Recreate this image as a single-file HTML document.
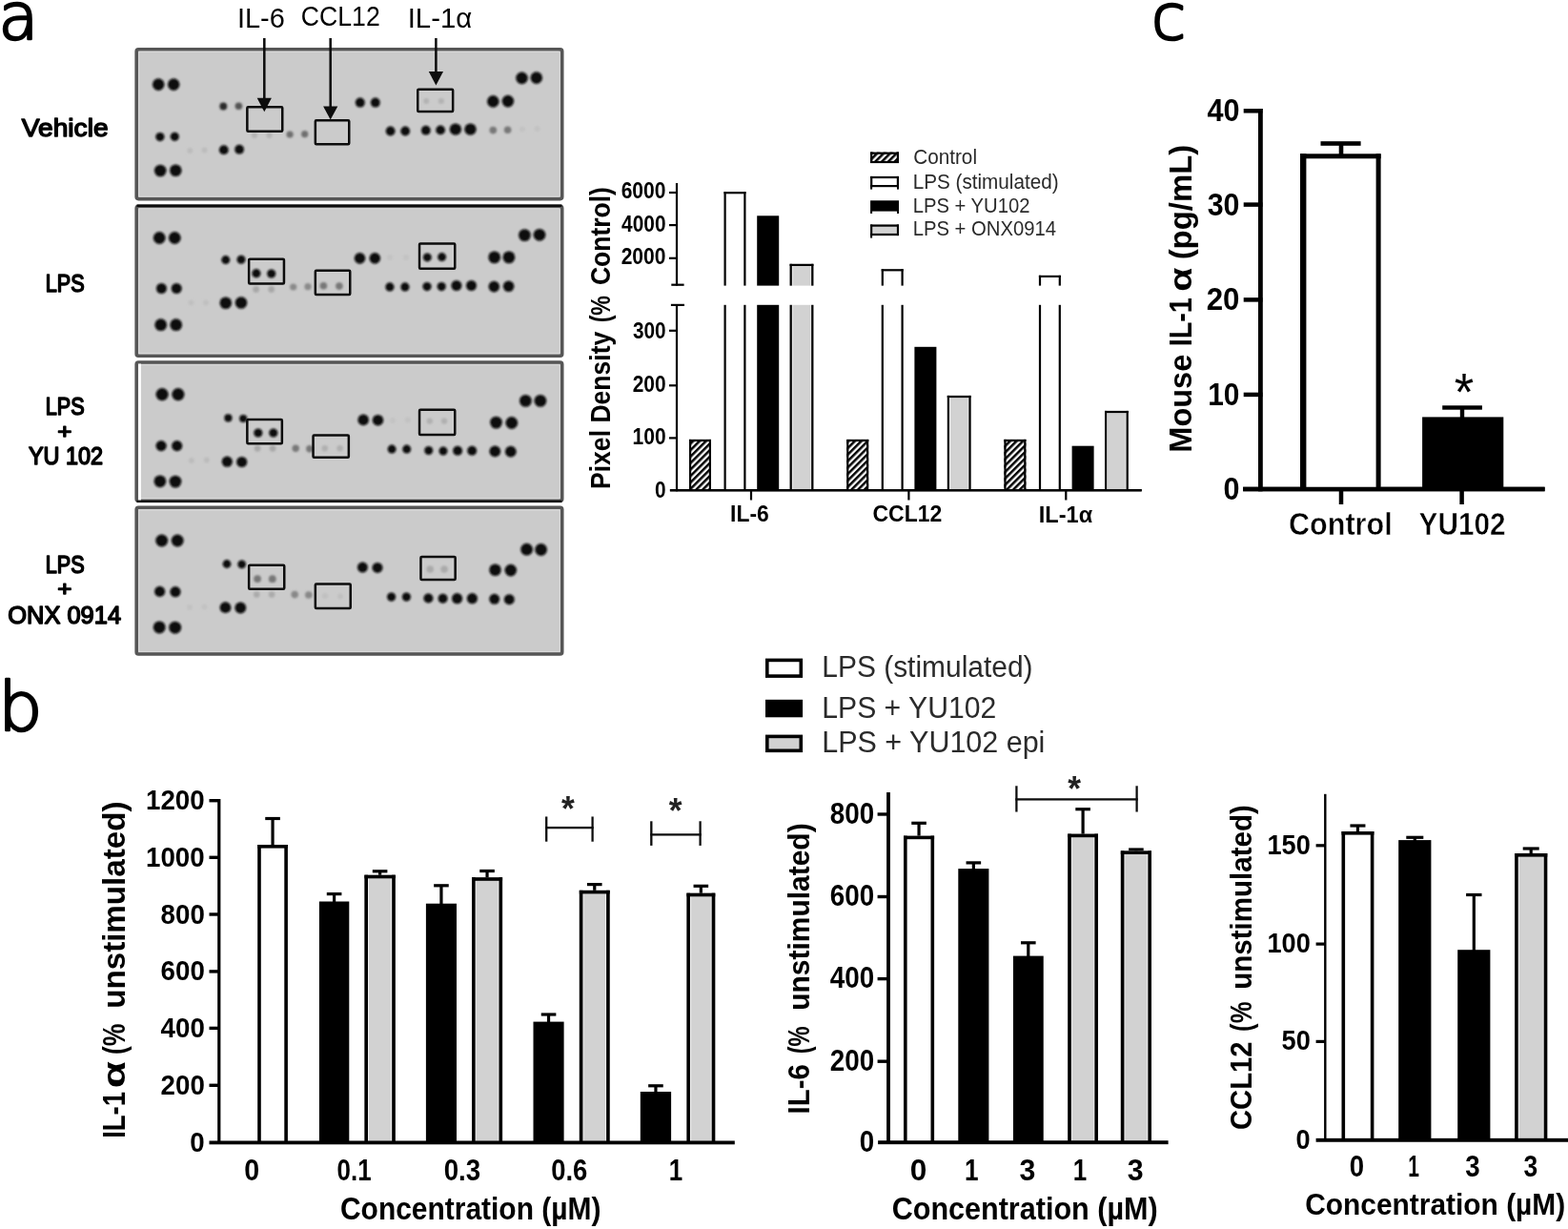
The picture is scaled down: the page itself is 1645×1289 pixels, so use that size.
<!DOCTYPE html>
<html lang="en"><head><meta charset="utf-8"><title>Figure</title>
<style>
html,body{margin:0;padding:0;background:#fff;}
body{width:1645px;height:1289px;overflow:hidden;}
svg{display:block;}
text{white-space:pre;}
</style></head>
<body>
<svg width="1645" height="1289" viewBox="0 0 1645 1289">
<defs>
<pattern id="hatch" patternUnits="userSpaceOnUse" width="4.8" height="4.8" patternTransform="rotate(-45)">
<rect width="4.8" height="4.8" fill="#fff"/><rect y="0" width="4.8" height="2.5" fill="#000"/>
</pattern>
<filter id="soft" x="-20%" y="-20%" width="140%" height="140%"><feGaussianBlur stdDeviation="0.9"/></filter>
<filter id="soft3" filterUnits="userSpaceOnUse" x="0" y="0" width="1645" height="1289"><feGaussianBlur stdDeviation="0.45"/></filter>
<filter id="soft2" x="-5%" y="-5%" width="110%" height="110%"><feGaussianBlur stdDeviation="0.6"/></filter>
</defs>
<rect width="1645" height="1289" fill="#fff"/>
<g id="all" filter="url(#soft3)">
<text transform="matrix(0.6810 0 0 0.6722 -1.55 40.69)" font-family="DejaVu Sans, Liberation Sans, sans-serif" font-weight="200" font-size="100" fill="#000" stroke="#000" stroke-width="3.84" stroke-linejoin="round" >a</text>
<text transform="matrix(0.7341 0 0 0.7174 -2.04 766.42)" font-family="DejaVu Sans, Liberation Sans, sans-serif" font-weight="200" font-size="100" fill="#000" stroke="#000" stroke-width="3.58" stroke-linejoin="round" >b</text>
<text transform="matrix(0.6571 0 0 0.6626 1207.9 40.71)" font-family="DejaVu Sans, Liberation Sans, sans-serif" font-weight="200" font-size="100" fill="#000" stroke="#000" stroke-width="3.94" stroke-linejoin="round" >c</text>
<rect x="143.2" y="51.8" width="446.5" height="156.8" rx="2" fill="#cbcbcb" stroke="#565656" stroke-width="3.6"/>
<rect x="145.6" y="54.3" width="441.7" height="151.8" rx="1" fill="none" stroke="#d8d8d8" stroke-width="1.2"/>
<rect x="143.2" y="216.4" width="446.5" height="156.8" rx="2" fill="#cbcbcb" stroke="#565656" stroke-width="3.6"/>
<rect x="145.6" y="218.9" width="441.7" height="151.8" rx="1" fill="none" stroke="#d8d8d8" stroke-width="1.2"/>
<rect x="143.2" y="380" width="446.5" height="145.2" rx="2" fill="#cbcbcb" stroke="#565656" stroke-width="3.6"/>
<rect x="145.6" y="382.5" width="441.7" height="140.2" rx="1" fill="none" stroke="#d8d8d8" stroke-width="1.2"/>
<rect x="143.2" y="532.3" width="446.5" height="153.7" rx="2" fill="#cbcbcb" stroke="#565656" stroke-width="3.6"/>
<rect x="145.6" y="534.8" width="441.7" height="148.7" rx="1" fill="none" stroke="#d8d8d8" stroke-width="1.2"/>
<rect x="143.5" y="214.5" width="445.9" height="2.4" fill="#0a0a0a"/>
<rect x="143.5" y="524.7" width="445.9" height="2.4" fill="#0a0a0a"/>
<rect x="145" y="381.5" width="3" height="143" fill="#fff" opacity="0.9"/>
<g filter="url(#soft)">
<circle cx="166.2" cy="88.6" r="6.3" fill="#0d0d0d"/>
<circle cx="182.2" cy="88.6" r="6.3" fill="#0d0d0d"/>
<circle cx="167.9" cy="143.6" r="4.6" fill="#0d0d0d"/>
<circle cx="183.3" cy="143.3" r="4.6" fill="#0d0d0d"/>
<circle cx="168.2" cy="179" r="6.3" fill="#0d0d0d"/>
<circle cx="184.3" cy="178.8" r="6.3" fill="#0d0d0d"/>
<circle cx="234.3" cy="111.5" r="3.9" fill="#2a2a2a"/>
<circle cx="250.4" cy="111.2" r="3.8" fill="#555"/>
<circle cx="234.8" cy="157.2" r="4.9" fill="#0d0d0d"/>
<circle cx="251.1" cy="156.7" r="4.9" fill="#0d0d0d"/>
<circle cx="199.3" cy="157.9" r="3" fill="#bcbcbc"/>
<circle cx="214.6" cy="157.5" r="3" fill="#bcbcbc"/>
<circle cx="304.1" cy="141" r="3.6" fill="#6e6e6e"/>
<circle cx="319.7" cy="140.7" r="3.6" fill="#6e6e6e"/>
<circle cx="266.9" cy="142.1" r="3" fill="#b4b4b4"/>
<circle cx="282.5" cy="142.1" r="3" fill="#b4b4b4"/>
<circle cx="447.2" cy="106" r="3" fill="#b2b2b2"/>
<circle cx="462.9" cy="106" r="3" fill="#b2b2b2"/>
<circle cx="377.8" cy="107.6" r="5" fill="#0d0d0d"/>
<circle cx="393.8" cy="107.6" r="5" fill="#0d0d0d"/>
<circle cx="547.5" cy="81.9" r="6.3" fill="#0d0d0d"/>
<circle cx="562.8" cy="81.6" r="6.3" fill="#0d0d0d"/>
<circle cx="517.3" cy="106.4" r="6.3" fill="#0d0d0d"/>
<circle cx="532.9" cy="106.1" r="6.3" fill="#0d0d0d"/>
<circle cx="409.6" cy="137.5" r="4.9" fill="#0d0d0d"/>
<circle cx="425.2" cy="137.5" r="4.9" fill="#0d0d0d"/>
<circle cx="446.8" cy="136.7" r="4.9" fill="#0d0d0d"/>
<circle cx="462.1" cy="136.4" r="4.9" fill="#0d0d0d"/>
<circle cx="477.9" cy="135.6" r="6.2" fill="#0d0d0d"/>
<circle cx="493.5" cy="135.6" r="6.2" fill="#0d0d0d"/>
<circle cx="517.3" cy="136.6" r="3.8" fill="#777"/>
<circle cx="532.6" cy="136.3" r="3.8" fill="#777"/>
<circle cx="548" cy="135.5" r="3" fill="#c2c2c2"/>
<circle cx="563.5" cy="135" r="3" fill="#c2c2c2"/>
<circle cx="167.2" cy="249.5" r="6.4" fill="#0d0d0d"/>
<circle cx="183.3" cy="249.5" r="6.4" fill="#0d0d0d"/>
<circle cx="169.4" cy="302.5" r="5.5" fill="#0d0d0d"/>
<circle cx="185.2" cy="302.5" r="5.5" fill="#0d0d0d"/>
<circle cx="168.7" cy="340.7" r="6.4" fill="#0d0d0d"/>
<circle cx="184.7" cy="340.7" r="6.4" fill="#0d0d0d"/>
<circle cx="236.8" cy="272.6" r="4.5" fill="#0d0d0d"/>
<circle cx="253" cy="272.3" r="4.5" fill="#0d0d0d"/>
<circle cx="236.8" cy="317.8" r="6.3" fill="#0d0d0d"/>
<circle cx="253" cy="317.5" r="6.3" fill="#0d0d0d"/>
<circle cx="268.9" cy="286.7" r="4.6" fill="#0d0d0d"/>
<circle cx="284.7" cy="287" r="4.6" fill="#0d0d0d"/>
<circle cx="268.6" cy="303.5" r="3.4" fill="#a8a8a8"/>
<circle cx="284.7" cy="303.5" r="3.4" fill="#a8a8a8"/>
<circle cx="307.7" cy="301" r="3.6" fill="#8a8a8a"/>
<circle cx="323" cy="300.7" r="3.6" fill="#8a8a8a"/>
<circle cx="339.4" cy="299.8" r="3.8" fill="#777"/>
<circle cx="355.9" cy="300.1" r="3.8" fill="#777"/>
<circle cx="200.5" cy="317.5" r="3" fill="#c0c0c0"/>
<circle cx="216" cy="317.5" r="3" fill="#c0c0c0"/>
<circle cx="448.3" cy="269.9" r="4.5" fill="#0d0d0d"/>
<circle cx="463.6" cy="269.6" r="4.5" fill="#0d0d0d"/>
<circle cx="377.5" cy="270.9" r="5.8" fill="#0d0d0d"/>
<circle cx="393.3" cy="270.9" r="5.8" fill="#0d0d0d"/>
<circle cx="550.4" cy="246.6" r="6.4" fill="#0d0d0d"/>
<circle cx="566" cy="246.3" r="6.4" fill="#0d0d0d"/>
<circle cx="518.7" cy="269.9" r="6.4" fill="#0d0d0d"/>
<circle cx="533.9" cy="269.9" r="6.4" fill="#0d0d0d"/>
<circle cx="408.9" cy="300.9" r="4.6" fill="#0d0d0d"/>
<circle cx="424.9" cy="300.9" r="4.6" fill="#0d0d0d"/>
<circle cx="448" cy="300.6" r="4.6" fill="#0d0d0d"/>
<circle cx="463.2" cy="300.6" r="4.6" fill="#0d0d0d"/>
<circle cx="478.9" cy="299.5" r="5.5" fill="#0d0d0d"/>
<circle cx="494.5" cy="299.5" r="5.5" fill="#0d0d0d"/>
<circle cx="518.3" cy="300.6" r="5.8" fill="#0d0d0d"/>
<circle cx="533.6" cy="300.3" r="5.8" fill="#0d0d0d"/>
<circle cx="409" cy="270" r="3" fill="#c3c3c3"/>
<circle cx="426" cy="270" r="3" fill="#c3c3c3"/>
<circle cx="170.1" cy="413.6" r="6.6" fill="#0d0d0d"/>
<circle cx="186.9" cy="413.6" r="6.6" fill="#0d0d0d"/>
<circle cx="169.1" cy="467.6" r="5.6" fill="#0d0d0d"/>
<circle cx="185.7" cy="467.6" r="5.6" fill="#0d0d0d"/>
<circle cx="167.9" cy="504.8" r="6.4" fill="#0d0d0d"/>
<circle cx="184" cy="505.1" r="6.4" fill="#0d0d0d"/>
<circle cx="239.4" cy="438.4" r="4.1" fill="#0d0d0d"/>
<circle cx="255.2" cy="439" r="4.1" fill="#0d0d0d"/>
<circle cx="238.3" cy="484.2" r="5.6" fill="#0d0d0d"/>
<circle cx="253.7" cy="484.5" r="5.6" fill="#0d0d0d"/>
<circle cx="270.8" cy="454" r="4.6" fill="#0d0d0d"/>
<circle cx="286.8" cy="454" r="4.6" fill="#0d0d0d"/>
<circle cx="270.1" cy="470.3" r="3.4" fill="#a8a8a8"/>
<circle cx="286.1" cy="470.3" r="3.4" fill="#a8a8a8"/>
<circle cx="310.2" cy="470.3" r="3.7" fill="#777"/>
<circle cx="324.8" cy="470.8" r="3.7" fill="#777"/>
<circle cx="340.8" cy="470.3" r="3.3" fill="#b0b0b0"/>
<circle cx="356.6" cy="470.3" r="3.3" fill="#b0b0b0"/>
<circle cx="200.8" cy="482.9" r="3" fill="#bcbcbc"/>
<circle cx="216.8" cy="482.4" r="3" fill="#bcbcbc"/>
<circle cx="450.8" cy="441.6" r="3.2" fill="#b0b0b0"/>
<circle cx="466.1" cy="441.6" r="3.2" fill="#b0b0b0"/>
<circle cx="381.2" cy="440.4" r="5.8" fill="#0d0d0d"/>
<circle cx="396.5" cy="440.7" r="5.8" fill="#0d0d0d"/>
<circle cx="551.4" cy="420.4" r="6.4" fill="#0d0d0d"/>
<circle cx="566.9" cy="420.4" r="6.4" fill="#0d0d0d"/>
<circle cx="520.5" cy="443.1" r="6.4" fill="#0d0d0d"/>
<circle cx="536.8" cy="443.5" r="6.4" fill="#0d0d0d"/>
<circle cx="411.1" cy="471.1" r="4.5" fill="#0d0d0d"/>
<circle cx="426.7" cy="471.1" r="4.5" fill="#0d0d0d"/>
<circle cx="449.7" cy="472.5" r="4.5" fill="#0d0d0d"/>
<circle cx="465" cy="473" r="4.5" fill="#0d0d0d"/>
<circle cx="480.1" cy="472.7" r="5" fill="#0d0d0d"/>
<circle cx="495.2" cy="472.7" r="5" fill="#0d0d0d"/>
<circle cx="519.3" cy="473.3" r="5.9" fill="#0d0d0d"/>
<circle cx="535.8" cy="473.7" r="5.9" fill="#0d0d0d"/>
<circle cx="411.8" cy="440.9" r="3" fill="#c2c2c2"/>
<circle cx="427.8" cy="440.4" r="3" fill="#c2c2c2"/>
<circle cx="169.7" cy="567" r="6.5" fill="#0d0d0d"/>
<circle cx="186.2" cy="567" r="6.5" fill="#0d0d0d"/>
<circle cx="167.6" cy="620.4" r="5.6" fill="#0d0d0d"/>
<circle cx="184" cy="620.7" r="5.6" fill="#0d0d0d"/>
<circle cx="167.2" cy="657.9" r="6.5" fill="#0d0d0d"/>
<circle cx="183.7" cy="658.2" r="6.5" fill="#0d0d0d"/>
<circle cx="238" cy="591.5" r="4.4" fill="#0d0d0d"/>
<circle cx="253.7" cy="591.8" r="4.4" fill="#0d0d0d"/>
<circle cx="236.5" cy="637.2" r="5.9" fill="#0d0d0d"/>
<circle cx="252.3" cy="637.5" r="5.9" fill="#0d0d0d"/>
<circle cx="270.1" cy="607.1" r="3.9" fill="#777"/>
<circle cx="285.8" cy="607.2" r="3.9" fill="#777"/>
<circle cx="269.3" cy="623.6" r="3.3" fill="#aaa"/>
<circle cx="285.1" cy="623.6" r="3.3" fill="#aaa"/>
<circle cx="309.2" cy="623.6" r="3.8" fill="#888"/>
<circle cx="323.8" cy="624" r="3.8" fill="#888"/>
<circle cx="341" cy="625" r="3" fill="#c0c0c0"/>
<circle cx="357" cy="625.5" r="3" fill="#c0c0c0"/>
<circle cx="199" cy="637" r="3" fill="#c2c2c2"/>
<circle cx="214.5" cy="636.5" r="3" fill="#c2c2c2"/>
<circle cx="451.2" cy="597" r="3.8" fill="#aaa"/>
<circle cx="466.1" cy="597" r="3.8" fill="#aaa"/>
<circle cx="380.4" cy="595.1" r="5.5" fill="#0d0d0d"/>
<circle cx="396" cy="595.4" r="5.5" fill="#0d0d0d"/>
<circle cx="552.6" cy="576.2" r="6.4" fill="#0d0d0d"/>
<circle cx="567.6" cy="576.5" r="6.4" fill="#0d0d0d"/>
<circle cx="519.5" cy="597.8" r="6.3" fill="#0d0d0d"/>
<circle cx="535.8" cy="598.1" r="6.3" fill="#0d0d0d"/>
<circle cx="410.6" cy="626.1" r="4.6" fill="#0d0d0d"/>
<circle cx="426.4" cy="626.1" r="4.6" fill="#0d0d0d"/>
<circle cx="449.4" cy="627.5" r="5" fill="#0d0d0d"/>
<circle cx="464.6" cy="627.8" r="5" fill="#0d0d0d"/>
<circle cx="479.6" cy="627.7" r="5.6" fill="#0d0d0d"/>
<circle cx="495.4" cy="627.7" r="5.6" fill="#0d0d0d"/>
<circle cx="518.7" cy="628.3" r="5.5" fill="#0d0d0d"/>
<circle cx="534.3" cy="628.7" r="5.5" fill="#0d0d0d"/>
</g>
<rect x="259.35" y="112.35" width="36.9" height="25.3" rx="1" fill="none" stroke="#0c0c0c" stroke-width="2.5"/>
<rect x="330.85" y="126.15" width="35.4" height="25.2" rx="1" fill="none" stroke="#0c0c0c" stroke-width="2.5"/>
<rect x="438.25" y="93.75" width="36.9" height="23.3" rx="1" fill="none" stroke="#0c0c0c" stroke-width="2.5"/>
<rect x="261.15" y="271.65" width="36.8" height="25.8" rx="1" fill="none" stroke="#0c0c0c" stroke-width="2.5"/>
<rect x="330.85" y="283.85" width="36.4" height="25.2" rx="1" fill="none" stroke="#0c0c0c" stroke-width="2.5"/>
<rect x="440.05" y="255.55" width="37.2" height="26.2" rx="1" fill="none" stroke="#0c0c0c" stroke-width="2.5"/>
<rect x="259.35" y="439.95" width="36.5" height="25.2" rx="1" fill="none" stroke="#0c0c0c" stroke-width="2.5"/>
<rect x="328.55" y="456.45" width="37.3" height="23.3" rx="1" fill="none" stroke="#0c0c0c" stroke-width="2.5"/>
<rect x="440.05" y="429.75" width="37.2" height="26.2" rx="1" fill="none" stroke="#0c0c0c" stroke-width="2.5"/>
<rect x="261.15" y="592.75" width="37.1" height="24.9" rx="1" fill="none" stroke="#0c0c0c" stroke-width="2.5"/>
<rect x="330.85" y="612.45" width="36.9" height="25.6" rx="1" fill="none" stroke="#0c0c0c" stroke-width="2.5"/>
<rect x="441.45" y="583.95" width="36.2" height="24.1" rx="1" fill="none" stroke="#0c0c0c" stroke-width="2.5"/>
<rect x="276.05" y="40" width="2.5" height="64.7" fill="#0c0c0c"/>
<path d="M269.7 102.7 L284.9 102.7 L277.3 117.3 Z" fill="#0a0a0a"/>
<rect x="345.45" y="40" width="2.5" height="73.5" fill="#0c0c0c"/>
<path d="M339.1 111.5 L354.3 111.5 L346.7 125.4 Z" fill="#0a0a0a"/>
<rect x="456.15" y="40" width="2.5" height="37" fill="#0c0c0c"/>
<path d="M449.8 75 L465 75 L457.4 89.6 Z" fill="#0a0a0a"/>
<text transform="matrix(0.2893 0 0 0.2901 248.9 28.51)" font-family="Liberation Sans, sans-serif" font-weight="normal" font-size="100" fill="#000" >IL-6</text>
<text transform="matrix(0.2664 0 0 0.2958 315.87 26.7)" font-family="Liberation Sans, sans-serif" font-weight="normal" font-size="100" fill="#000" >CCL12</text>
<text transform="matrix(0.2938 0 0 0.3000 427.66 28.9)" font-family="Liberation Sans, sans-serif" font-weight="normal" font-size="100" fill="#000" >IL-1α</text>
<text transform="matrix(0.2816 0 0 0.2639 22.81 142.89)" font-family="Liberation Sans, sans-serif" font-weight="normal" font-size="100" fill="#000" stroke="#000" stroke-width="5.50" stroke-linejoin="round" >Vehicle</text>
<text transform="matrix(0.2159 0 0 0.2563 47.82 306.39)" font-family="Liberation Sans, sans-serif" font-weight="normal" font-size="100" fill="#000" stroke="#000" stroke-width="6.35" stroke-linejoin="round" >LPS</text>
<text transform="matrix(0.2159 0 0 0.2563 47.82 435.39)" font-family="Liberation Sans, sans-serif" font-weight="normal" font-size="100" fill="#000" stroke="#000" stroke-width="6.35" stroke-linejoin="round" >LPS</text>
<text transform="matrix(0.2598 0 0 0.2245 60.35 460.17)" font-family="Liberation Sans, sans-serif" font-weight="normal" font-size="100" fill="#000" stroke="#000" stroke-width="6.19" stroke-linejoin="round" >+</text>
<text transform="matrix(0.2340 0 0 0.2493 29.96 487.3)" font-family="Liberation Sans, sans-serif" font-weight="normal" font-size="100" fill="#000" stroke="#000" stroke-width="6.21" stroke-linejoin="round" >YU 102</text>
<text transform="matrix(0.2159 0 0 0.2535 47.82 600.5)" font-family="Liberation Sans, sans-serif" font-weight="normal" font-size="100" fill="#000" stroke="#000" stroke-width="6.39" stroke-linejoin="round" >LPS</text>
<text transform="matrix(0.2598 0 0 0.2163 60.35 625.4)" font-family="Liberation Sans, sans-serif" font-weight="normal" font-size="100" fill="#000" stroke="#000" stroke-width="6.30" stroke-linejoin="round" >+</text>
<text transform="matrix(0.2544 0 0 0.2648 8.31 653.69)" font-family="Liberation Sans, sans-serif" font-weight="normal" font-size="100" fill="#000" stroke="#000" stroke-width="5.78" stroke-linejoin="round" >ONX 0914</text>
<rect x="708.9" y="192" width="2.2" height="107.6" fill="#000"/>
<rect x="704.3" y="297.6" width="13.3" height="2.2" fill="#000"/>
<rect x="708.9" y="319.6" width="2.2" height="195.7" fill="#000"/>
<rect x="703.9" y="318.8" width="14.1" height="2.2" fill="#000"/>
<rect x="702" y="200.9" width="8" height="2.2" fill="#000"/>
<rect x="702" y="235" width="8" height="2.2" fill="#000"/>
<rect x="702" y="269.7" width="8" height="2.2" fill="#000"/>
<rect x="702" y="345.7" width="8" height="2.2" fill="#000"/>
<rect x="702" y="403.2" width="8" height="2.2" fill="#000"/>
<rect x="702" y="458.3" width="8" height="2.2" fill="#000"/>
<rect x="702.9" y="513.05" width="494.8" height="2.3" fill="#000"/>
<rect x="786.9" y="514" width="2.2" height="10.5" fill="#000"/>
<rect x="952.3" y="514" width="2.2" height="10.5" fill="#000"/>
<rect x="1117.2" y="514" width="2.2" height="10.5" fill="#000"/>
<rect x="723" y="460.9" width="23" height="53.3" fill="url(#hatch)" />
<rect x="723" y="460.9" width="2.2" height="53.3" fill="#000"/>
<rect x="743.8" y="460.9" width="2.2" height="53.3" fill="#000"/>
<rect x="723" y="460.9" width="23" height="2.2" fill="#000"/>
<rect x="888.2" y="460.9" width="23" height="53.3" fill="url(#hatch)" />
<rect x="888.2" y="460.9" width="2.2" height="53.3" fill="#000"/>
<rect x="909" y="460.9" width="2.2" height="53.3" fill="#000"/>
<rect x="888.2" y="460.9" width="23" height="2.2" fill="#000"/>
<rect x="1053.4" y="460.9" width="23" height="53.3" fill="url(#hatch)" />
<rect x="1053.4" y="460.9" width="2.2" height="53.3" fill="#000"/>
<rect x="1074.2" y="460.9" width="2.2" height="53.3" fill="#000"/>
<rect x="1053.4" y="460.9" width="23" height="2.2" fill="#000"/>
<rect x="759.5" y="201.1" width="23" height="98.5" fill="#fff" />
<rect x="759.5" y="201.1" width="2.2" height="98.5" fill="#000"/>
<rect x="780.3" y="201.1" width="2.2" height="98.5" fill="#000"/>
<rect x="759.5" y="201.1" width="23" height="2.2" fill="#000"/>
<rect x="759.5" y="319.8" width="23" height="194.4" fill="#fff" />
<rect x="759.5" y="319.8" width="2.2" height="194.4" fill="#000"/>
<rect x="780.3" y="319.8" width="2.2" height="194.4" fill="#000"/>
<rect x="924.7" y="282.2" width="23" height="17.4" fill="#fff" />
<rect x="924.7" y="282.2" width="2.2" height="17.4" fill="#000"/>
<rect x="945.5" y="282.2" width="2.2" height="17.4" fill="#000"/>
<rect x="924.7" y="282.2" width="23" height="2.2" fill="#000"/>
<rect x="924.7" y="319.8" width="23" height="194.4" fill="#fff" />
<rect x="924.7" y="319.8" width="2.2" height="194.4" fill="#000"/>
<rect x="945.5" y="319.8" width="2.2" height="194.4" fill="#000"/>
<rect x="1089.9" y="288.8" width="23" height="10.8" fill="#fff" />
<rect x="1089.9" y="288.8" width="2.2" height="10.8" fill="#000"/>
<rect x="1110.7" y="288.8" width="2.2" height="10.8" fill="#000"/>
<rect x="1089.9" y="288.8" width="23" height="2.2" fill="#000"/>
<rect x="1089.9" y="319.8" width="23" height="194.4" fill="#fff" />
<rect x="1089.9" y="319.8" width="2.2" height="194.4" fill="#000"/>
<rect x="1110.7" y="319.8" width="2.2" height="194.4" fill="#000"/>
<rect x="794.2" y="226.3" width="23" height="73.3" fill="#000" />
<rect x="794.2" y="319.8" width="23" height="194.4" fill="#000" />
<rect x="959.4" y="363.8" width="23" height="150.4" fill="#000" />
<rect x="1124.6" y="467.7" width="23" height="46.5" fill="#000" />
<rect x="828.6" y="276.8" width="24.8" height="22.8" fill="#d2d2d2" />
<rect x="830.8" y="279" width="0.8" height="20.6" fill="#f4f4f4" />
<rect x="850.4" y="279" width="0.8" height="20.6" fill="#f4f4f4" />
<rect x="828.6" y="276.8" width="2.2" height="22.8" fill="#000"/>
<rect x="851.2" y="276.8" width="2.2" height="22.8" fill="#000"/>
<rect x="828.6" y="276.8" width="24.8" height="2.2" fill="#000"/>
<rect x="828.6" y="319.8" width="24.8" height="194.4" fill="#d2d2d2" />
<rect x="830.8" y="319.8" width="0.8" height="194.4" fill="#f4f4f4" />
<rect x="850.4" y="319.8" width="0.8" height="194.4" fill="#f4f4f4" />
<rect x="828.6" y="319.8" width="2.2" height="194.4" fill="#000"/>
<rect x="851.2" y="319.8" width="2.2" height="194.4" fill="#000"/>
<rect x="993.8" y="414.9" width="24.8" height="99.3" fill="#d2d2d2" />
<rect x="996" y="417.1" width="0.8" height="97.1" fill="#f4f4f4" />
<rect x="1015.6" y="417.1" width="0.8" height="97.1" fill="#f4f4f4" />
<rect x="993.8" y="414.9" width="2.2" height="99.3" fill="#000"/>
<rect x="1016.4" y="414.9" width="2.2" height="99.3" fill="#000"/>
<rect x="993.8" y="414.9" width="24.8" height="2.2" fill="#000"/>
<rect x="1159" y="430.9" width="24.8" height="83.3" fill="#d2d2d2" />
<rect x="1161.2" y="433.1" width="0.8" height="81.1" fill="#f4f4f4" />
<rect x="1180.8" y="433.1" width="0.8" height="81.1" fill="#f4f4f4" />
<rect x="1159" y="430.9" width="2.2" height="83.3" fill="#000"/>
<rect x="1181.6" y="430.9" width="2.2" height="83.3" fill="#000"/>
<rect x="1159" y="430.9" width="24.8" height="2.2" fill="#000"/>
<rect x="702.9" y="513.05" width="494.8" height="2.3" fill="#000"/>
<text transform="matrix(0.9088 0 0 1 651.66 208.3)" font-family="Liberation Sans, sans-serif" font-weight="bold" font-size="23.18" fill="#000">6000</text>
<text transform="matrix(0.9004 0 0 1 652.09 242.8)" font-family="Liberation Sans, sans-serif" font-weight="bold" font-size="23.18" fill="#000">4000</text>
<text transform="matrix(0.9088 0 0 1 651.66 277.3)" font-family="Liberation Sans, sans-serif" font-weight="bold" font-size="23.18" fill="#000">2000</text>
<text transform="matrix(0.8977 0 0 1 663.88 354.6)" font-family="Liberation Sans, sans-serif" font-weight="bold" font-size="23.18" fill="#000">300</text>
<text transform="matrix(0.9033 0 0 1 663.67 411.4)" font-family="Liberation Sans, sans-serif" font-weight="bold" font-size="23.18" fill="#000">200</text>
<text transform="matrix(0.9067 0 0 1 663.54 466)" font-family="Liberation Sans, sans-serif" font-weight="bold" font-size="23.18" fill="#000">100</text>
<text transform="matrix(0.8990 0 0 1 686.97 521.5)" font-family="Liberation Sans, sans-serif" font-weight="bold" font-size="23.18" fill="#000">0</text>
<text transform="matrix(0.9888 0 0 1 766.11 547.2)" font-family="Liberation Sans, sans-serif" font-weight="bold" font-size="23.18" fill="#000">IL-6</text>
<text transform="matrix(0.9927 0 0 1 915.48 547.3)" font-family="Liberation Sans, sans-serif" font-weight="bold" font-size="23.18" fill="#000">CCL12</text>
<text transform="matrix(1.0170 0 0 1 1089.77 547.5)" font-family="Liberation Sans, sans-serif" font-weight="bold" font-size="23.18" fill="#000">IL-1α</text>
<g>
<text transform="matrix(0 -0.8977 1 0 639.5 513.03)" font-family="Liberation Sans, sans-serif" font-weight="bold" font-size="29.61" fill="#000">Pixel Density</text>
<text transform="matrix(0 -0.7841 1 0 639.5 338.36)" font-family="Liberation Sans, sans-serif" font-weight="bold" font-size="29.61" fill="#000">(%</text>
<text transform="matrix(0 -0.8941 1 0 639.5 299.06)" font-family="Liberation Sans, sans-serif" font-weight="bold" font-size="29.61" fill="#000">Control)</text>
</g>
<rect x="913.1" y="159.6" width="29.9" height="11.4" fill="url(#hatch)" />
<rect x="913.1" y="159.6" width="2.2" height="11.4" fill="#000"/>
<rect x="940.8" y="159.6" width="2.2" height="11.4" fill="#000"/>
<rect x="913.1" y="159.6" width="29.9" height="2.2" fill="#000"/>
<rect x="913.1" y="168.9" width="29.9" height="2.2" fill="#000"/>
<rect x="913.1" y="184.9" width="29.9" height="11.3" fill="#fff" />
<rect x="913.1" y="184.9" width="2.2" height="11.3" fill="#000"/>
<rect x="940.8" y="184.9" width="2.2" height="11.3" fill="#000"/>
<rect x="913.1" y="184.9" width="29.9" height="2.2" fill="#000"/>
<rect x="913.1" y="194" width="29.9" height="2.2" fill="#000"/>
<rect x="913.1" y="196" width="2" height="2.6" fill="#000"/>
<rect x="941" y="196" width="2" height="2.6" fill="#000"/>
<rect x="913.1" y="210.3" width="29.9" height="11.3" fill="#000" />
<rect x="913.1" y="221" width="2" height="3" fill="#000"/>
<rect x="941" y="221" width="2" height="3" fill="#000"/>
<rect x="913.1" y="235.5" width="29.9" height="11.6" fill="#d2d2d2" />
<rect x="915.3" y="237.7" width="0.8" height="9.4" fill="#f4f4f4" />
<rect x="940" y="237.7" width="0.8" height="9.4" fill="#f4f4f4" />
<rect x="913.1" y="235.5" width="2.2" height="11.6" fill="#000"/>
<rect x="940.8" y="235.5" width="2.2" height="11.6" fill="#000"/>
<rect x="913.1" y="235.5" width="29.9" height="2.2" fill="#000"/>
<rect x="913.1" y="244.9" width="29.9" height="2.2" fill="#000"/>
<rect x="913.1" y="247" width="2" height="2.6" fill="#000"/>
<text transform="matrix(0.9097 0 0 1 958.26 171.7)" font-family="Liberation Sans, sans-serif" font-weight="normal" font-size="22.77" fill="#2b2b2b">Control</text>
<text transform="matrix(0.9094 0 0 1 957.64 198.3)" font-family="Liberation Sans, sans-serif" font-weight="normal" font-size="22.77" fill="#2b2b2b">LPS (stimulated)</text>
<text transform="matrix(0.8889 0 0 1 957.68 222.9)" font-family="Liberation Sans, sans-serif" font-weight="normal" font-size="22.77" fill="#2b2b2b">LPS + YU102</text>
<text transform="matrix(0.8899 0 0 1 957.68 247.4)" font-family="Liberation Sans, sans-serif" font-weight="normal" font-size="22.77" fill="#2b2b2b">LPS + ONX0914</text>
<rect x="1320.05" y="114" width="4.5" height="401.2" fill="#000"/>
<rect x="1304.7" y="114.05" width="19.8" height="4.5" fill="#000"/>
<rect x="1304.7" y="212.35" width="19.8" height="4.5" fill="#000"/>
<rect x="1304.7" y="312.15" width="19.8" height="4.5" fill="#000"/>
<rect x="1304.7" y="411.65" width="19.8" height="4.5" fill="#000"/>
<rect x="1304.1" y="510.75" width="316.5" height="4.5" fill="#000"/>
<rect x="1404.75" y="513" width="4.5" height="16" fill="#000"/>
<rect x="1531.35" y="513" width="4.5" height="16" fill="#000"/>
<rect x="1364" y="161.3" width="84.6" height="351.7" fill="#fff" />
<rect x="1364" y="161.3" width="6.4" height="351.7" fill="#000"/>
<rect x="1443.6" y="161.3" width="5" height="351.7" fill="#000"/>
<rect x="1364" y="161.3" width="84.6" height="5" fill="#000"/>
<rect x="1385.5" y="148.2" width="42.1" height="4.6" fill="#000"/>
<rect x="1404.7" y="150.5" width="4.6" height="11.5" fill="#000"/>
<rect x="1492.1" y="437.4" width="85.2" height="75.6" fill="#000" />
<rect x="1513.2" y="425.3" width="41.7" height="4.4" fill="#000"/>
<rect x="1531.8" y="427.5" width="4.4" height="10.5" fill="#000"/>
<rect x="1304.1" y="510.75" width="316.5" height="4.5" fill="#000"/>
<rect x="1320.05" y="114" width="4.5" height="401.2" fill="#000"/>
<text transform="matrix(0.5250 0 0 0.5486 1525.71 430.15)" font-family="Liberation Sans, sans-serif" font-weight="normal" font-size="100" fill="#000" >*</text>
<text transform="matrix(0.9289 0 0 1 1266.44 126.7)" font-family="Liberation Sans, sans-serif" font-weight="bold" font-size="32.96" fill="#000">40</text>
<text transform="matrix(0.9203 0 0 1 1266.74 225.6)" font-family="Liberation Sans, sans-serif" font-weight="bold" font-size="32.96" fill="#000">30</text>
<text transform="matrix(0.9497 0 0 1 1265.7 325)" font-family="Liberation Sans, sans-serif" font-weight="bold" font-size="32.96" fill="#000">20</text>
<text transform="matrix(0.9072 0 0 1 1267.21 424.7)" font-family="Liberation Sans, sans-serif" font-weight="bold" font-size="32.96" fill="#000">10</text>
<text transform="matrix(0.9261 0 0 1 1283.48 523.6)" font-family="Liberation Sans, sans-serif" font-weight="bold" font-size="32.96" fill="#000">0</text>
<text transform="matrix(0.9128 0 0 1 1351.93 561.45)" font-family="Liberation Sans, sans-serif" font-weight="bold" font-size="33.52" fill="#000" stroke="#fff" stroke-width="0.5" stroke-linejoin="round">Control</text>
<text transform="matrix(0.8885 0 0 1 1488.55 561.45)" font-family="Liberation Sans, sans-serif" font-weight="bold" font-size="33.52" fill="#000" stroke="#fff" stroke-width="0.5" stroke-linejoin="round">YU102</text>
<g>
<text transform="matrix(0 -0.9915 1 0 1249.6 474.72)" font-family="Liberation Sans, sans-serif" font-weight="bold" font-size="32.82" fill="#000">Mouse</text>
<text transform="matrix(0 -0.8788 1 0 1249.6 363.37)" font-family="Liberation Sans, sans-serif" font-weight="bold" font-size="32.82" fill="#000">IL-1</text>
<text transform="matrix(0 -1.2457 1 0 1249.6 305.84)" font-family="Liberation Sans, sans-serif" font-weight="bold" font-size="32.82" fill="#000">α</text>
<text transform="matrix(0 -1.0019 1 0 1249.6 272.34)" font-family="Liberation Sans, sans-serif" font-weight="bold" font-size="32.82" fill="#000">(pg/mL)</text>
</g>
<rect x="804.8" y="692.4" width="35.5" height="16.7" fill="#fff" stroke="#000" stroke-width="3.6" />
<rect x="803" y="733.8" width="39.1" height="18.5" fill="#000" />
<rect x="804.8" y="772.4" width="35.5" height="14.9" fill="#d2d2d2" stroke="#000" stroke-width="3.6" />
<text transform="matrix(0.9567 0 0 1 862.31 710.4)" font-family="Liberation Sans, sans-serif" font-weight="normal" font-size="31.28" fill="#2b2b2b">LPS (stimulated)</text>
<text transform="matrix(0.9638 0 0 1 862.29 752.5)" font-family="Liberation Sans, sans-serif" font-weight="normal" font-size="31.28" fill="#2b2b2b">LPS + YU102</text>
<text transform="matrix(0.9748 0 0 1 862.26 788.7)" font-family="Liberation Sans, sans-serif" font-weight="normal" font-size="31.28" fill="#2b2b2b">LPS + YU102 epi</text>
<rect x="228.2" y="838" width="3.2" height="360.4" fill="#000"/>
<rect x="219.5" y="838" width="10.5" height="3.4" fill="#000"/>
<rect x="219.5" y="897.6" width="10.5" height="3.4" fill="#000"/>
<rect x="219.5" y="957.3" width="10.5" height="3.4" fill="#000"/>
<rect x="219.5" y="1017.2" width="10.5" height="3.4" fill="#000"/>
<rect x="219.5" y="1076.7" width="10.5" height="3.4" fill="#000"/>
<rect x="219.5" y="1136.6" width="10.5" height="3.4" fill="#000"/>
<rect x="278.25" y="856.9" width="15.6" height="3.2" fill="#000"/>
<rect x="284.45" y="858.5" width="3.2" height="28.5" fill="#000"/>
<rect x="270.2" y="886" width="31.7" height="312.4" fill="#fff" />
<rect x="270.2" y="886" width="3.6" height="312.4" fill="#000"/>
<rect x="298.3" y="886" width="3.6" height="312.4" fill="#000"/>
<rect x="270.2" y="886" width="31.7" height="3.6" fill="#000"/>
<rect x="342.8" y="936" width="15.6" height="3.2" fill="#000"/>
<rect x="349" y="937.6" width="3.2" height="8.9" fill="#000"/>
<rect x="334.9" y="945.5" width="31.4" height="252.9" fill="#000" />
<rect x="390.8" y="912.2" width="15.6" height="3.2" fill="#000"/>
<rect x="397" y="913.8" width="3.2" height="4.9" fill="#000"/>
<rect x="382.4" y="917.7" width="32.4" height="280.7" fill="#d2d2d2" />
<rect x="386" y="921.3" width="1" height="277.1" fill="#f2f2f2" />
<rect x="410.2" y="921.3" width="1" height="277.1" fill="#f2f2f2" />
<rect x="382.4" y="917.7" width="3.6" height="280.7" fill="#000"/>
<rect x="411.2" y="917.7" width="3.6" height="280.7" fill="#000"/>
<rect x="382.4" y="917.7" width="32.4" height="3.6" fill="#000"/>
<rect x="455.15" y="927.2" width="15.6" height="3.2" fill="#000"/>
<rect x="461.35" y="928.8" width="3.2" height="19.9" fill="#000"/>
<rect x="446.9" y="947.7" width="32.1" height="250.7" fill="#000" />
<rect x="503.25" y="911.9" width="15.6" height="3.2" fill="#000"/>
<rect x="509.45" y="913.5" width="3.2" height="7.7" fill="#000"/>
<rect x="495" y="920.2" width="32.1" height="278.2" fill="#d2d2d2" />
<rect x="498.6" y="923.8" width="1" height="274.6" fill="#f2f2f2" />
<rect x="522.5" y="923.8" width="1" height="274.6" fill="#f2f2f2" />
<rect x="495" y="920.2" width="3.6" height="278.2" fill="#000"/>
<rect x="523.5" y="920.2" width="3.6" height="278.2" fill="#000"/>
<rect x="495" y="920.2" width="32.1" height="3.6" fill="#000"/>
<rect x="567.75" y="1062.4" width="15.6" height="3.2" fill="#000"/>
<rect x="573.95" y="1064" width="3.2" height="8.6" fill="#000"/>
<rect x="559.5" y="1071.6" width="32.1" height="126.8" fill="#000" />
<rect x="615.95" y="926" width="15.6" height="3.2" fill="#000"/>
<rect x="622.15" y="927.6" width="3.2" height="7.2" fill="#000"/>
<rect x="607.8" y="933.8" width="31.9" height="264.6" fill="#d2d2d2" />
<rect x="611.4" y="937.4" width="1" height="261" fill="#f2f2f2" />
<rect x="635.1" y="937.4" width="1" height="261" fill="#f2f2f2" />
<rect x="607.8" y="933.8" width="3.6" height="264.6" fill="#000"/>
<rect x="636.1" y="933.8" width="3.6" height="264.6" fill="#000"/>
<rect x="607.8" y="933.8" width="31.9" height="3.6" fill="#000"/>
<rect x="680.15" y="1137.2" width="15.6" height="3.2" fill="#000"/>
<rect x="686.35" y="1138.8" width="3.2" height="7.2" fill="#000"/>
<rect x="671.8" y="1145" width="32.3" height="53.4" fill="#000" />
<rect x="727.55" y="927.7" width="15.6" height="3.2" fill="#000"/>
<rect x="733.75" y="929.3" width="3.2" height="8.4" fill="#000"/>
<rect x="720.4" y="936.7" width="29.9" height="261.7" fill="#d2d2d2" />
<rect x="724" y="940.3" width="1" height="258.1" fill="#f2f2f2" />
<rect x="745.7" y="940.3" width="1" height="258.1" fill="#f2f2f2" />
<rect x="720.4" y="936.7" width="3.6" height="261.7" fill="#000"/>
<rect x="746.7" y="936.7" width="3.6" height="261.7" fill="#000"/>
<rect x="720.4" y="936.7" width="29.9" height="3.6" fill="#000"/>
<rect x="219.5" y="1196.5" width="551.3" height="3.8" fill="#000"/>
<rect x="572.1" y="866.95" width="50.6" height="2.3" fill="#0d0d0d"/>
<rect x="572.05" y="856.5" width="2.3" height="26.2" fill="#0d0d0d"/>
<rect x="620.45" y="856.5" width="2.3" height="26.2" fill="#0d0d0d"/>
<text transform="matrix(0.3532 0 0 0.3622 589.02 860.79)" font-family="Liberation Sans, sans-serif" font-weight="bold" font-size="100" fill="#222" >*</text>
<rect x="682.2" y="874.25" width="53.5" height="2.3" fill="#0d0d0d"/>
<rect x="682.15" y="861.3" width="2.3" height="25.6" fill="#0d0d0d"/>
<rect x="733.45" y="861.3" width="2.3" height="25.6" fill="#0d0d0d"/>
<text transform="matrix(0.3532 0 0 0.3622 701.82 862.79)" font-family="Liberation Sans, sans-serif" font-weight="bold" font-size="100" fill="#222" >*</text>
<text transform="matrix(0.9146 0 0 1 153.04 849.2)" font-family="Liberation Sans, sans-serif" font-weight="bold" font-size="30.31" fill="#000">1200</text>
<text transform="matrix(0.9146 0 0 1 153.04 908.8)" font-family="Liberation Sans, sans-serif" font-weight="bold" font-size="30.31" fill="#000">1000</text>
<text transform="matrix(0.9146 0 0 1 168.56 968.5)" font-family="Liberation Sans, sans-serif" font-weight="bold" font-size="30.31" fill="#000">800</text>
<text transform="matrix(0.9146 0 0 1 168.56 1028.4)" font-family="Liberation Sans, sans-serif" font-weight="bold" font-size="30.31" fill="#000">600</text>
<text transform="matrix(0.9146 0 0 1 168.56 1087.9)" font-family="Liberation Sans, sans-serif" font-weight="bold" font-size="30.31" fill="#000">400</text>
<text transform="matrix(0.9146 0 0 1 168.56 1147.8)" font-family="Liberation Sans, sans-serif" font-weight="bold" font-size="30.31" fill="#000">200</text>
<text transform="matrix(0.9146 0 0 1 199.33 1207.8)" font-family="Liberation Sans, sans-serif" font-weight="bold" font-size="30.31" fill="#000">0</text>
<text transform="matrix(0.9152 0 0 1 256.25 1237.6)" font-family="Liberation Sans, sans-serif" font-weight="bold" font-size="31.28" fill="#000">0</text>
<text transform="matrix(0.8275 0 0 1 353.56 1237.6)" font-family="Liberation Sans, sans-serif" font-weight="bold" font-size="31.28" fill="#000">0.1</text>
<text transform="matrix(0.8848 0 0 1 465.69 1237.6)" font-family="Liberation Sans, sans-serif" font-weight="bold" font-size="31.28" fill="#000">0.3</text>
<text transform="matrix(0.8775 0 0 1 578.2 1237.6)" font-family="Liberation Sans, sans-serif" font-weight="bold" font-size="31.28" fill="#000">0.6</text>
<text transform="matrix(0.8297 0 0 1 701.84 1237.6)" font-family="Liberation Sans, sans-serif" font-weight="bold" font-size="31.28" fill="#000">1</text>
<text transform="matrix(0.9204 0 0 1 357 1278.9)" font-family="Liberation Sans, sans-serif" font-weight="bold" font-size="32.54" fill="#000">Concentration (µM)</text>
<g>
<text transform="matrix(0 -0.8336 1 0 131 1193.79)" font-family="Liberation Sans, sans-serif" font-weight="bold" font-size="32.96" fill="#000">IL-1</text>
<text transform="matrix(0 -1.3961 1 0 131 1141.24)" font-family="Liberation Sans, sans-serif" font-weight="bold" font-size="32.96" fill="#000">α</text>
<text transform="matrix(0 -0.8046 1 0 131 1106.03)" font-family="Liberation Sans, sans-serif" font-weight="bold" font-size="32.96" fill="#000">(%</text>
<text transform="matrix(0 -1.0057 1 0 131 1057.79)" font-family="Liberation Sans, sans-serif" font-weight="bold" font-size="32.96" fill="#000">unstimulated)</text>
</g>
<rect x="930.1" y="831" width="3.8" height="367.2" fill="#000"/>
<rect x="920.6" y="852.3" width="11.4" height="3.4" fill="#000"/>
<rect x="920.6" y="938.8" width="11.4" height="3.4" fill="#000"/>
<rect x="920.6" y="1024.9" width="11.4" height="3.4" fill="#000"/>
<rect x="920.6" y="1111.5" width="11.4" height="3.4" fill="#000"/>
<rect x="956.25" y="861.7" width="15.6" height="3.2" fill="#000"/>
<rect x="962.45" y="863.3" width="3.2" height="14.3" fill="#000"/>
<rect x="948" y="876.6" width="32.1" height="321.6" fill="#fff" />
<rect x="948" y="876.6" width="3.6" height="321.6" fill="#000"/>
<rect x="976.5" y="876.6" width="3.6" height="321.6" fill="#000"/>
<rect x="948" y="876.6" width="32.1" height="3.6" fill="#000"/>
<rect x="1013.55" y="903.3" width="15.6" height="3.2" fill="#000"/>
<rect x="1019.75" y="904.9" width="3.2" height="7.2" fill="#000"/>
<rect x="1005.3" y="911.1" width="32.1" height="287.1" fill="#000" />
<rect x="1071" y="987.2" width="15.6" height="3.2" fill="#000"/>
<rect x="1077.2" y="988.8" width="3.2" height="14.8" fill="#000"/>
<rect x="1062.9" y="1002.6" width="31.8" height="195.6" fill="#000" />
<rect x="1128.3" y="847.1" width="15.6" height="3.2" fill="#000"/>
<rect x="1134.5" y="848.7" width="3.2" height="26.9" fill="#000"/>
<rect x="1120.2" y="874.6" width="31.8" height="323.6" fill="#d2d2d2" />
<rect x="1123.8" y="878.2" width="1" height="320" fill="#f2f2f2" />
<rect x="1147.4" y="878.2" width="1" height="320" fill="#f2f2f2" />
<rect x="1120.2" y="874.6" width="3.6" height="323.6" fill="#000"/>
<rect x="1148.4" y="874.6" width="3.6" height="323.6" fill="#000"/>
<rect x="1120.2" y="874.6" width="31.8" height="3.6" fill="#000"/>
<rect x="1184.1" y="889.4" width="15.6" height="3.2" fill="#000"/>
<rect x="1190.3" y="891" width="3.2" height="2.4" fill="#000"/>
<rect x="1175.8" y="892.4" width="32.2" height="305.8" fill="#d2d2d2" />
<rect x="1179.4" y="896" width="1" height="302.2" fill="#f2f2f2" />
<rect x="1203.4" y="896" width="1" height="302.2" fill="#f2f2f2" />
<rect x="1175.8" y="892.4" width="3.6" height="305.8" fill="#000"/>
<rect x="1204.4" y="892.4" width="3.6" height="305.8" fill="#000"/>
<rect x="1175.8" y="892.4" width="32.2" height="3.6" fill="#000"/>
<rect x="921.1" y="1196.25" width="304.5" height="3.9" fill="#000"/>
<rect x="1065.3" y="837.25" width="128.4" height="2.3" fill="#0d0d0d"/>
<rect x="1065.25" y="824.3" width="2.3" height="27.2" fill="#0d0d0d"/>
<rect x="1191.45" y="824.3" width="2.3" height="27.2" fill="#0d0d0d"/>
<text transform="matrix(0.3532 0 0 0.3622 1120.32 840.09)" font-family="Liberation Sans, sans-serif" font-weight="bold" font-size="100" fill="#222" >*</text>
<text transform="matrix(0.9101 0 0 1 870.76 863.6)" font-family="Liberation Sans, sans-serif" font-weight="bold" font-size="30.59" fill="#000">800</text>
<text transform="matrix(0.9101 0 0 1 870.76 950.1)" font-family="Liberation Sans, sans-serif" font-weight="bold" font-size="30.59" fill="#000">600</text>
<text transform="matrix(0.9101 0 0 1 870.76 1036.2)" font-family="Liberation Sans, sans-serif" font-weight="bold" font-size="30.59" fill="#000">400</text>
<text transform="matrix(0.9101 0 0 1 870.76 1122.8)" font-family="Liberation Sans, sans-serif" font-weight="bold" font-size="30.59" fill="#000">200</text>
<text transform="matrix(0.9101 0 0 1 901.66 1207.8)" font-family="Liberation Sans, sans-serif" font-weight="bold" font-size="30.59" fill="#000">0</text>
<text transform="matrix(1.0278 0 0 1 954.64 1238.2)" font-family="Liberation Sans, sans-serif" font-weight="bold" font-size="30.73" fill="#000">0</text>
<text transform="matrix(0.8517 0 0 1 1012.03 1238.2)" font-family="Liberation Sans, sans-serif" font-weight="bold" font-size="30.73" fill="#000">1</text>
<text transform="matrix(0.9862 0 0 1 1069.44 1238.2)" font-family="Liberation Sans, sans-serif" font-weight="bold" font-size="30.73" fill="#000">3</text>
<text transform="matrix(0.8448 0 0 1 1125.74 1238.2)" font-family="Liberation Sans, sans-serif" font-weight="bold" font-size="30.73" fill="#000">1</text>
<text transform="matrix(0.9862 0 0 1 1182.64 1238.2)" font-family="Liberation Sans, sans-serif" font-weight="bold" font-size="30.73" fill="#000">3</text>
<text transform="matrix(0.9394 0 0 1 935.68 1278.9)" font-family="Liberation Sans, sans-serif" font-weight="bold" font-size="32.54" fill="#000">Concentration (µM)</text>
<g>
<text transform="matrix(0 -0.9125 1 0 849.2 1168.41)" font-family="Liberation Sans, sans-serif" font-weight="bold" font-size="32.12" fill="#000">IL-6</text>
<text transform="matrix(0 -0.7363 1 0 849.2 1105.28)" font-family="Liberation Sans, sans-serif" font-weight="bold" font-size="32.12" fill="#000">(%</text>
<text transform="matrix(0 -0.9334 1 0 849.2 1059.8)" font-family="Liberation Sans, sans-serif" font-weight="bold" font-size="32.12" fill="#000">unstimulated)</text>
</g>
<rect x="1389.1" y="832.8" width="2.4" height="363" fill="#000"/>
<rect x="1380.6" y="885.2" width="9.9" height="3.2" fill="#000"/>
<rect x="1380.6" y="988.5" width="9.9" height="3.2" fill="#000"/>
<rect x="1380.6" y="1090.8" width="9.9" height="3.2" fill="#000"/>
<rect x="1416.45" y="864.4" width="16" height="3.2" fill="#000"/>
<rect x="1422.85" y="866" width="3.2" height="7" fill="#000"/>
<rect x="1407.5" y="872" width="33.9" height="323.8" fill="#fff" />
<rect x="1407.5" y="872" width="3.6" height="323.8" fill="#000"/>
<rect x="1437.8" y="872" width="3.6" height="323.8" fill="#000"/>
<rect x="1407.5" y="872" width="33.9" height="3.6" fill="#000"/>
<rect x="1475.3" y="876.7" width="18" height="3.2" fill="#000"/>
<rect x="1482.7" y="878.3" width="3.2" height="3.8" fill="#000"/>
<rect x="1467.2" y="881.1" width="34.2" height="314.7" fill="#000" />
<rect x="1538.1" y="936.9" width="16.4" height="3.2" fill="#000"/>
<rect x="1544.7" y="938.5" width="3.2" height="58.7" fill="#000"/>
<rect x="1529.2" y="996.2" width="34.2" height="199.6" fill="#000" />
<rect x="1597.7" y="888.4" width="17" height="3.2" fill="#000"/>
<rect x="1604.6" y="890" width="3.2" height="6" fill="#000"/>
<rect x="1589.1" y="895" width="34.2" height="300.8" fill="#d2d2d2" />
<rect x="1592.7" y="898.6" width="1" height="297.2" fill="#f2f2f2" />
<rect x="1618.7" y="898.6" width="1" height="297.2" fill="#f2f2f2" />
<rect x="1589.1" y="895" width="3.6" height="300.8" fill="#000"/>
<rect x="1619.7" y="895" width="3.6" height="300.8" fill="#000"/>
<rect x="1589.1" y="895" width="34.2" height="3.6" fill="#000"/>
<rect x="1380.6" y="1193.85" width="264.4" height="3.9" fill="#000"/>
<text transform="matrix(0.9348 0 0 1 1329.47 895.7)" font-family="Liberation Sans, sans-serif" font-weight="bold" font-size="29.05" fill="#000">150</text>
<text transform="matrix(0.9348 0 0 1 1329.47 999)" font-family="Liberation Sans, sans-serif" font-weight="bold" font-size="29.05" fill="#000">100</text>
<text transform="matrix(0.9348 0 0 1 1344.54 1101.3)" font-family="Liberation Sans, sans-serif" font-weight="bold" font-size="29.05" fill="#000">50</text>
<text transform="matrix(0.9348 0 0 1 1359.61 1204.6)" font-family="Liberation Sans, sans-serif" font-weight="bold" font-size="29.05" fill="#000">0</text>
<text transform="matrix(0.8737 0 0 1 1415.8 1233.9)" font-family="Liberation Sans, sans-serif" font-weight="bold" font-size="31.56" fill="#000">0</text>
<text transform="matrix(0.6673 0 0 1 1477.34 1233.9)" font-family="Liberation Sans, sans-serif" font-weight="bold" font-size="31.56" fill="#000">1</text>
<text transform="matrix(0.8768 0 0 1 1537.21 1233.9)" font-family="Liberation Sans, sans-serif" font-weight="bold" font-size="31.56" fill="#000">3</text>
<text transform="matrix(0.8384 0 0 1 1598.54 1233.9)" font-family="Liberation Sans, sans-serif" font-weight="bold" font-size="31.56" fill="#000">3</text>
<text transform="matrix(0.9693 0 0 1 1369.2 1273.8)" font-family="Liberation Sans, sans-serif" font-weight="bold" font-size="30.87" fill="#000">Concentration (µM)</text>
<g>
<text transform="matrix(0 -0.9161 1 0 1313.3 1184.97)" font-family="Liberation Sans, sans-serif" font-weight="bold" font-size="31.84" fill="#000">CCL12</text>
<text transform="matrix(0 -0.8028 1 0 1313.3 1081.88)" font-family="Liberation Sans, sans-serif" font-weight="bold" font-size="31.84" fill="#000">(%</text>
<text transform="matrix(0 -0.9270 1 0 1313.3 1037.67)" font-family="Liberation Sans, sans-serif" font-weight="bold" font-size="31.84" fill="#000">unstimulated)</text>
</g>
</g>
</svg>
</body></html>
